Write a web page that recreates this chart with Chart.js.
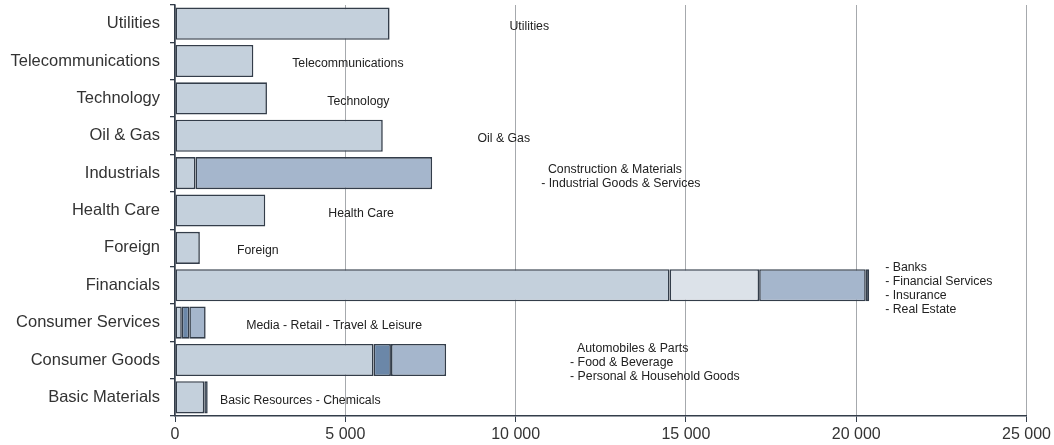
<!DOCTYPE html>
<html>
<head>
<meta charset="utf-8">
<script src="https://cdn.jsdelivr.net/npm/chart.js@4/dist/chart.umd.min.js"></script>
<style>
  html, body { margin:0; padding:0; background:#fff; }
  #wrap { width:1054px; height:445px; position:relative; }
</style>
</head>
<body>
<div id="wrap"><canvas id="chartSectors"></canvas></div>
<script>
/* ── Data ── */
const categories = ['Utilities','Telecommunications','Technology','Oil & Gas','Industrials','Health Care','Foreign','Financials','Consumer Services','Consumer Goods','Basic Materials'];
// stacked segments, by shade (left to right)
const segLight     = [6300, 2300, 2700, 6100, 600, 2650, 730, 14520, 200, 5830, 860];
const segPale      = [null, null, null, null, null, null, null, 2630, null, null, null];
const segSteel     = [null, null, null, null, null, null, null, null, 220, 510, 100];
const segMedium    = [null, null, null, null, 6950, null, null, 3130, 480, 1620, null];
const segDark      = [null, null, null, null, null, null, null, 100, null, null, null];
const xTicks       = [0, 5000, 10000, 15000, 20000, 25000];

// sub-sector notes next to each bar
const noteLines = [
  ['Utilities'],
  ['Telecommunications'],
  ['Technology'],
  ['Oil & Gas'],
  ['  Construction & Materials', '- Industrial Goods & Services'],
  ['Health Care'],
  ['Foreign'],
  ['- Banks', '- Financial Services', '- Insurance', '- Real Estate'],
  ['Media - Retail - Travel & Leisure'],
  ['  Automobiles & Parts', '- Food & Beverage', '- Personal & Household Goods'],
  ['Basic Resources - Chemicals']
];
const noteX = [9820, 3440, 4470, 8880, 10750, 4500, 1820, 20850, 2090, 11600, 1320];

/* ── Styles ── */
const EDGE = '#333d4a';
const FONT = 'Liberation Sans, Arial, sans-serif';

const notesPlugin = {
  id:'notes',
  afterDatasetsDraw(chart) {
    const {ctx, scales:{x, y}} = chart;
    ctx.save();
    ctx.font = '12.3px ' + FONT;
    ctx.fillStyle = '#222';
    ctx.textAlign = 'left';
    ctx.textBaseline = 'middle';
    noteLines.forEach((lines, i) => {
      const px = x.getPixelForValue(noteX[i]);
      const cy = y.getPixelForValue(i) + 3;
      const y0 = cy - (lines.length - 1) * 14 / 2;
      lines.forEach((t, k) => ctx.fillText(t, px, y0 + k * 14));
    });
    ctx.restore();
  }
};

const mk = (data, color) => ({
  data, backgroundColor:color, borderColor:EDGE, borderWidth:1.6, borderSkipped:false,
  barPercentage:0.86, categoryPercentage:1
});

new Chart(document.getElementById('chartSectors'), {
  type:'bar',
  data:{ labels:categories, datasets:[
    mk(segLight,  '#c4d0dc'),
    mk(segPale,   '#dce2e9'),
    mk(segSteel,  '#6b87a8'),
    mk(segMedium, '#a5b6cc'),
    mk(segDark,   '#2f3d52')
  ]},
  options:{
    indexAxis:'y',
    responsive:true,
    maintainAspectRatio:false,
    animation:false,
    layout:{ padding:{ top:5, right:26, bottom:0, left:0 } },
    plugins:{ legend:{display:false}, tooltip:{enabled:false} },
    scales:{
      x:{
        stacked:true, min:0, max:25000,
        afterBuildTicks: s => { s.ticks = xTicks.map(v => ({value:v})); },
        grid:{ color:'#a6a9ad', lineWidth:1, tickLength:6, tickColor:EDGE },
        border:{ color:EDGE, width:1.5 },
        ticks:{ color:'#333', font:{family:FONT, size:16}, padding:3,
          callback: v => String(v).replace(/\B(?=(\d{3})+(?!\d))/g, ' ') },
        afterFit: s => { s.height = 29; }
      },
      y:{
        stacked:true,
        grid:{ offset:true, drawOnChartArea:false, tickLength:5, color:EDGE, lineWidth:1.3 },
        border:{ color:EDGE, width:1.5 },
        ticks:{ color:'#333', font:{family:FONT, size:16.5}, padding:10 },
        afterFit: s => { s.width = 175; s.paddingTop = 0; s.paddingBottom = 0; }
      }
    }
  },
  plugins:[notesPlugin]
});
</script>
</body>
</html>
